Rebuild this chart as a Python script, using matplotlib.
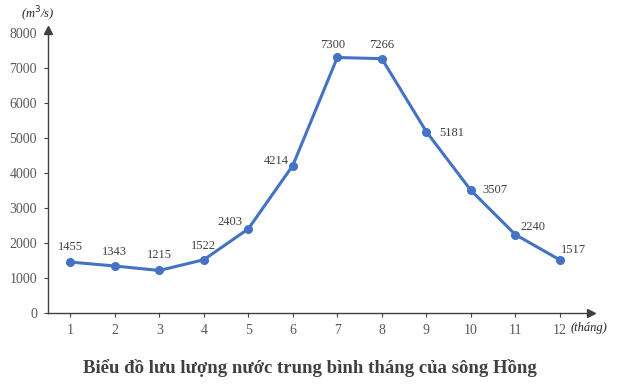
import matplotlib
matplotlib.use("Agg")
import matplotlib.pyplot as plt
from matplotlib.transforms import blended_transform_factory

months = [1, 2, 3, 4, 5, 6, 7, 8, 9, 10, 11, 12]
flow = [1455, 1343, 1215, 1522, 2403, 4214, 7300, 7266, 5181, 3507, 2240, 1517]
# label centre offsets in pixels (dx, dy up)
label_offsets = [(0, 15), (0, 14), (0, 15), (0, 14), (-18, 7), (-17, 5),
                 (-5, 12), (0, 14), (25, -1), (24, 0), (18, 8), (14, 10)]
y_ticks = [0, 1000, 2000, 3000, 4000, 5000, 6000, 7000, 8000]

plt.rcParams['font.family'] = ['Liberation Serif', 'DejaVu Serif']
gray = '#595959'
blue = '#4472C4'

fig = plt.figure(figsize=(6.2, 3.92), dpi=100)
ax = fig.add_axes([48 / 620, 79 / 392, 543 / 620, 280 / 392])

ax.plot(months, flow, color=blue, linewidth=2.2, marker='o', markersize=5.5, clip_on=False, zorder=3)
for m, v, (dx, dy) in zip(months, flow, label_offsets):
    ax.annotate(str(v), (m, v), xytext=(dx, dy), textcoords='offset pixels',
                ha='center', va='center', fontsize=9, color='#404040')

ax.set_xlim(0.5, 12.7)
ax.set_ylim(0, 8000)
ax.set_xticks(months)
ax.set_yticks(y_ticks)
ax.tick_params(axis='both', labelsize=10, labelcolor=gray, color='#404040', length=3, width=0.8)
ax.tick_params(axis='x', pad=5)
ax.tick_params(axis='y', pad=5)

for side in ['top', 'right']:
    ax.spines[side].set_visible(False)
for side in ['left', 'bottom']:
    ax.spines[side].set_color('#404040')
    ax.spines[side].set_linewidth(1.0)

# arrow heads on the axes
ax.plot(1, 0, '>', color='#404040', markersize=6, transform=ax.transAxes, clip_on=False)
ax.plot(0, 1.01, '^', color='#404040', markersize=6, transform=ax.transAxes, clip_on=False)

fig.text(38 / 620, 1 - 14 / 392, '(m$^3$/s)', ha='center', va='center',
         fontsize=9, style='italic', color='#262626')
trans = blended_transform_factory(ax.transData, fig.transFigure)
ax.text(12.25, 1 - 328 / 392, '(tháng)', transform=trans, ha='left', va='center',
        fontsize=9, style='italic', color='#262626')

fig.text(0.5, 1 - 368 / 392, 'Biểu đồ lưu lượng nước trung bình tháng của sông Hồng',
         ha='center', va='center', fontsize=13.5, fontweight='bold', color='#404040')

fig.savefig('out.png', dpi=100)
